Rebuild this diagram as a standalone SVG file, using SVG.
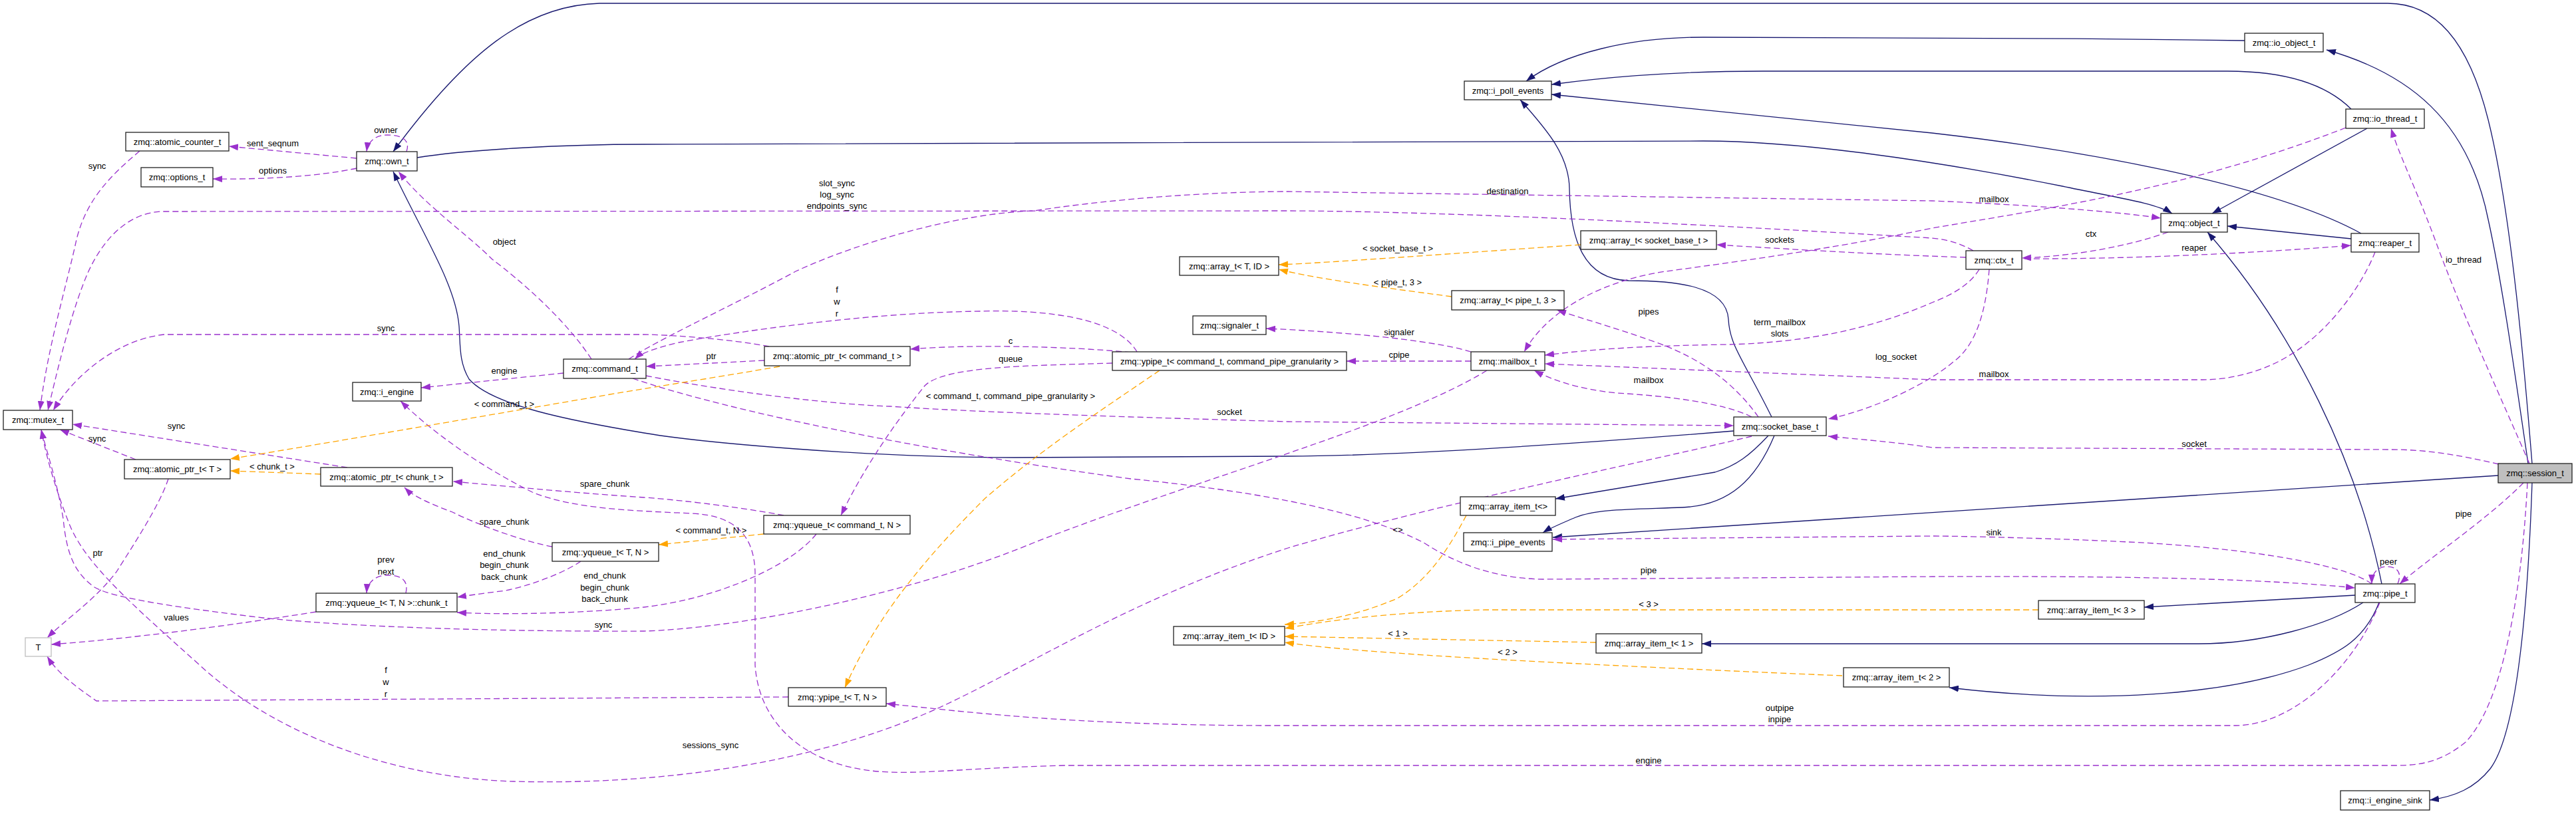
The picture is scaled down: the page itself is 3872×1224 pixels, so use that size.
<svg xmlns="http://www.w3.org/2000/svg" width="3872" height="1224" viewBox="0 0 3872 1224">
<style>
text{font-family:"Liberation Sans",Arial,sans-serif;font-size:13px;fill:#000}
.n rect{fill:#fff;stroke:#222;stroke-width:1.3}
.n text{text-anchor:middle}
.l text,text.l{text-anchor:middle}
.e{fill:none;stroke:#191970;stroke-width:1.3}
.m{fill:none;stroke:#9a32cd;stroke-width:1.3;stroke-dasharray:9,5}
.t{fill:none;stroke:#ffa500;stroke-width:1.3;stroke-dasharray:9,5}
</style>
<defs>
<marker id="ab" viewBox="0 0 14 10" refX="14" refY="5" markerWidth="14" markerHeight="10" markerUnits="userSpaceOnUse" orient="auto"><path d="M0,0L14,5L0,10z" fill="#191970" stroke="none"/></marker>
<marker id="ap" viewBox="0 0 14 10" refX="14" refY="5" markerWidth="14" markerHeight="10" markerUnits="userSpaceOnUse" orient="auto"><path d="M0,0L14,5L0,10z" fill="#9a32cd" stroke="none"/></marker>
<marker id="ao" viewBox="0 0 14 10" refX="14" refY="5" markerWidth="14" markerHeight="10" markerUnits="userSpaceOnUse" orient="auto"><path d="M0,0L14,5L0,10z" fill="#ffa500" stroke="none"/></marker>
</defs>
<rect width="3872" height="1224" fill="#fff"/>
<g id="connectors">
<!-- inheritance -->
<path class="e" marker-end="url(#ab)" d="M3806,697 C3795,560 3775,320 3740,180 C3710,60 3660,5 3589,5 L901,5 C790,8 700,80 591,228"/>
<path class="e" marker-end="url(#ab)" d="M3800,697 C3780,560 3760,420 3740,330 C3710,180 3620,110 3497,75"/>
<path class="e" marker-end="url(#ab)" d="M3755,715 L2334,808"/>
<path class="e" marker-end="url(#ab)" d="M3806,726 C3800,900 3785,1100 3743,1156 C3720,1185 3690,1198 3652,1203"/>
<path class="e" marker-end="url(#ab)" d="M3374,61 C3100,57 2800,56 2560,56 C2450,56 2350,80 2294,122"/>
<path class="e" marker-end="url(#ab)" d="M3534,164 C3510,140 3460,107 3348,107 L2650,107 C2500,107 2400,118 2332,127"/>
<path class="e" marker-end="url(#ab)" d="M3549,351 C3420,280 3150,228 2904,200 L2332,142"/>
<path class="e" marker-end="url(#ab)" d="M3558,193 L3325,321"/>
<path class="e" marker-end="url(#ab)" d="M3534,359 L3348,340"/>
<path class="e" marker-end="url(#ab)" d="M3580,878 C3545,700 3450,500 3318,349"/>
<path class="e" marker-end="url(#ab)" d="M627,237 C700,225 850,217 968,217 L2560,212 C2700,212 2900,240 3100,280 C3180,297 3240,305 3265,321"/>
<path class="e" marker-end="url(#ab)" d="M2606,648 C2400,665 2100,686 1936,686 L1524,688 C1300,688 1050,665 968,651 C860,633 740,610 705,570 C690,545 692,520 690,490 C685,430 640,360 591,258"/>
<path class="e" marker-end="url(#ab)" d="M2663,627 C2620,540 2600,520 2598,480 C2595,430 2520,422 2448,422 C2380,420 2360,360 2359,283 C2358,230 2320,190 2285,150"/>
<path class="e" marker-end="url(#ab)" d="M2658,655 C2630,685 2610,700 2578,710 L2338,750"/>
<path class="e" marker-end="url(#ab)" d="M2667,655 C2640,720 2600,760 2529,763 C2450,766 2400,765 2368,778 C2345,788 2330,794 2319,801"/>
<path class="e" marker-end="url(#ab)" d="M3540,895 L3223,913"/>
<path class="e" marker-end="url(#ab)" d="M3552,906 C3500,940 3400,968 3305,968 L2558,968"/>
<path class="e" marker-end="url(#ab)" d="M3576,906 C3555,960 3520,980 3470,1000 C3350,1045 3150,1060 2930,1034"/>
<!-- members -->
<path class="m" marker-end="url(#ap)" d="M611,228 C618,208 600,203 582,203 C565,203 553,212 551,228"/>
<path class="m" marker-end="url(#ap)" d="M536,238 L344,220"/>
<path class="m" marker-end="url(#ap)" d="M536,253 C480,265 400,270 320,269"/>
<path class="m" marker-end="url(#ap)" d="M210,227 C165,265 130,300 115,360 C100,430 72,520 60,617"/>
<path class="m" marker-end="url(#ap)" d="M2966,377 C2945,365 2925,360 2904,358 C2600,340 2200,318 1936,317 L247,318 C200,318 160,350 133,408 C110,460 90,540 72,617"/>
<path class="m" marker-end="url(#ap)" d="M2955,387 C2800,382 2650,372 2580,368"/>
<path class="m" marker-end="url(#ap)" d="M2975,405 C2960,430 2930,445 2904,455 C2800,500 2700,515 2600,518 C2450,520 2380,527 2322,534"/>
<path class="m" marker-end="url(#ap)" d="M2990,405 C2985,470 2970,520 2935,545 C2900,575 2820,615 2748,630"/>
<path class="m" marker-end="url(#ap)" d="M3259,349 C3200,370 3120,385 3039,388"/>
<path class="m" marker-end="url(#ap)" d="M3043,389 C3200,390 3400,380 3534,369"/>
<path class="m" marker-end="url(#ap)" d="M945,540 C990,510 1100,460 1196,408 C1300,360 1450,320 1554,317 C1700,295 1850,288 1936,288 L2904,302 C3050,308 3180,318 3248,328"/>
<path class="m" marker-end="url(#ap)" d="M889,540 C850,480 780,420 740,390 C700,350 640,310 599,258"/>
<path class="m" marker-end="url(#ap)" d="M847,561 L633,583"/>
<path class="m" marker-end="url(#ap)" d="M971,565 C1100,590 1250,608 1338,611 C1500,622 1800,630 1936,634 L2606,640"/>
<path class="m" marker-end="url(#ap)" d="M951,569 C1100,620 1400,680 1700,720 C1900,740 2050,770 2140,816 C2200,855 2260,870 2319,871 L2904,867 C3200,866 3400,870 3540,884"/>
<path class="m" marker-end="url(#ap)" d="M1149,542 L971,551"/>
<path class="m" marker-end="url(#ap)" d="M1156,521 C1100,510 1000,503 968,503 L247,503 C180,510 115,560 80,617"/>
<path class="m" marker-end="url(#ap)" d="M204,691 L90,646"/>
<path class="m" marker-end="url(#ap)" d="M253,720 C240,760 200,820 175,860 C140,905 100,930 71,959"/>
<path class="m" marker-end="url(#ap)" d="M522,703 L109,638"/>
<path class="m" marker-end="url(#ap)" d="M1709,529 C1680,480 1580,465 1474,468 C1300,470 1100,500 1020,515 C990,522 965,530 954,540"/>
<path class="m" marker-end="url(#ap)" d="M1700,530 C1600,520 1450,518 1368,525"/>
<path class="m" marker-end="url(#ap)" d="M1672,546 C1550,550 1420,550 1390,580 C1350,630 1300,700 1264,775"/>
<path class="m" marker-end="url(#ap)" d="M2211,543 L2024,543"/>
<path class="m" marker-end="url(#ap)" d="M2211,529 C2150,510 2000,498 1903,494"/>
<path class="m" marker-end="url(#ap)" d="M2235,557 C2100,640 1800,720 1554,816 C1350,900 1100,945 968,949 C700,950 500,940 395,929 C280,915 170,900 142,883 C110,860 100,830 95,780 C85,720 70,680 62,646"/>
<path class="m" marker-end="url(#ap)" d="M2633,656 C2450,700 2150,760 1936,824 C1700,900 1550,1000 1412,1064 C1200,1160 950,1180 772,1175 C600,1170 420,1110 300,1000 C200,910 130,850 105,790 C85,740 70,690 62,646"/>
<path class="m" marker-end="url(#ap)" d="M2643,627 C2610,580 2560,540 2490,515 C2420,490 2380,480 2340,466"/>
<path class="m" marker-end="url(#ap)" d="M2633,627 C2590,605 2500,595 2430,591 C2370,585 2330,570 2306,557"/>
<path class="m" marker-end="url(#ap)" d="M3526,192 C3300,280 3100,310 2904,343 C2750,375 2600,395 2504,408 C2420,420 2330,460 2291,529"/>
<path class="m" marker-end="url(#ap)" d="M3570,379 C3550,430 3500,500 3440,535 C3400,560 3350,571 3311,571 L2904,571 L2322,547"/>
<path class="m" marker-end="url(#ap)" d="M3802,697 C3760,600 3700,470 3660,360 C3630,280 3605,230 3594,193"/>
<path class="m" marker-end="url(#ap)" d="M3756,698 C3700,685 3650,676 3595,676 L2904,673 C2850,665 2790,660 2748,656"/>
<path class="m" marker-end="url(#ap)" d="M3793,726 C3740,780 3650,840 3607,878"/>
<path class="m" marker-end="url(#ap)" d="M3799,726 C3790,900 3760,1060 3706,1116 C3670,1145 3640,1151 3601,1151 L1600,1151 C1450,1155 1380,1165 1320,1160 C1200,1150 1140,1080 1135,1000 L1135,860 C1133,800 1100,775 1040,772 C950,768 860,765 800,740 C720,700 650,650 602,603"/>
<path class="m" marker-end="url(#ap)" d="M1178,775 C1100,760 1000,750 968,748 C850,740 750,730 681,724"/>
<path class="m" marker-end="url(#ap)" d="M1227,803 C1190,850 1080,900 968,913 C880,922 760,925 687,921"/>
<path class="m" marker-end="url(#ap)" d="M830,822 C790,815 720,790 680,770 C640,755 620,745 608,733"/>
<path class="m" marker-end="url(#ap)" d="M873,844 C850,860 800,880 760,888 C720,893 700,896 687,898"/>
<path class="m" marker-end="url(#ap)" d="M610,892 C615,870 600,865 582,865 C565,865 552,875 551,892"/>
<path class="m" marker-end="url(#ap)" d="M475,920 C350,940 200,960 77,969"/>
<path class="m" marker-end="url(#ap)" d="M1185,1048 L145,1054 C110,1030 85,1010 71,987"/>
<path class="m" marker-end="url(#ap)" d="M3577,906 C3540,1000 3450,1090 3361,1091 L1900,1091 C1600,1090 1450,1070 1332,1058"/>
<path class="m" marker-end="url(#ap)" d="M3565,878 C3520,845 3350,822 3200,815 C3100,810 2950,806 2904,806 L2334,811"/>
<path class="m" marker-end="url(#ap)" d="M3604,878 C3612,858 3600,852 3588,852 C3575,852 3565,860 3565,878"/>
<!-- template -->
<path class="t" marker-end="url(#ao)" d="M1172,551 C1050,572 968,584 900,596 C700,630 500,665 346,690"/>
<path class="t" marker-end="url(#ao)" d="M482,713 L346,708"/>
<path class="t" marker-end="url(#ao)" d="M1743,557 C1650,620 1560,680 1480,750 C1400,830 1320,920 1270,1034"/>
<path class="t" marker-end="url(#ao)" d="M1148,803 C1080,810 1030,815 990,819"/>
<path class="t" marker-end="url(#ao)" d="M2376,368 C2200,380 2000,395 1922,398"/>
<path class="t" marker-end="url(#ao)" d="M2182,446 C2100,435 1980,420 1922,405"/>
<path class="t" marker-end="url(#ao)" d="M2204,775 C2180,820 2150,870 2100,900 C2040,925 1990,935 1931,939"/>
<path class="t" marker-end="url(#ao)" d="M3064,917 L2232,917 C2100,920 2000,932 1931,945"/>
<path class="t" marker-end="url(#ao)" d="M2399,966 L1931,957"/>
<path class="t" marker-end="url(#ao)" d="M2769,1016 C2500,1005 2200,990 2100,982 C2000,975 1960,970 1931,966"/>
</g>
<g id="labels" class="l">
<text x="580" y="200">owner</text>
<text x="410" y="220">sent_seqnum</text>
<text x="410" y="261">options</text>
<text x="146" y="254">sync</text>
<text x="758" y="368">object</text>
<text x="1258" y="280">slot_sync</text>
<text x="1258" y="297">log_sync</text>
<text x="1258" y="314">endpoints_sync</text>
<text x="2266" y="292">destination</text>
<text x="2675" y="365">sockets</text>
<text x="2101" y="378">&lt; socket_base_t &gt;</text>
<text x="2997" y="304">mailbox</text>
<text x="3143" y="356">ctx</text>
<text x="3298" y="377">reaper</text>
<text x="3703" y="395">io_thread</text>
<text x="580" y="498">sync</text>
<text x="758" y="562">engine</text>
<text x="758" y="612">&lt; command_t &gt;</text>
<text x="265" y="645">sync</text>
<text x="146" y="664">sync</text>
<text x="409" y="706">&lt; chunk_t &gt;</text>
<text x="909" y="732">spare_chunk</text>
<text x="758" y="789">spare_chunk</text>
<text x="1258" y="440">f</text>
<text x="1258" y="458">w</text>
<text x="1258" y="476">r</text>
<text x="1519" y="517">c</text>
<text x="1069" y="540">ptr</text>
<text x="1519" y="544">queue</text>
<text x="1519" y="600">&lt; command_t, command_pipe_granularity &gt;</text>
<text x="1848" y="624">socket</text>
<text x="1069" y="802">&lt; command_t, N &gt;</text>
<text x="2101" y="429">&lt; pipe_t, 3 &gt;</text>
<text x="2478" y="473">pipes</text>
<text x="2103" y="504">signaler</text>
<text x="2675" y="489">term_mailbox</text>
<text x="2675" y="506">slots</text>
<text x="2103" y="538">cpipe</text>
<text x="2850" y="541">log_socket</text>
<text x="2478" y="576">mailbox</text>
<text x="2997" y="567">mailbox</text>
<text x="3298" y="672">socket</text>
<text x="3703" y="777">pipe</text>
<text x="2997" y="805">sink</text>
<text x="2101" y="801">&lt;&gt;</text>
<text x="147" y="836">ptr</text>
<text x="580" y="846">prev</text>
<text x="580" y="864">next</text>
<text x="758" y="837">end_chunk</text>
<text x="758" y="854">begin_chunk</text>
<text x="758" y="872">back_chunk</text>
<text x="909" y="870">end_chunk</text>
<text x="909" y="888">begin_chunk</text>
<text x="909" y="905">back_chunk</text>
<text x="265" y="933">values</text>
<text x="907" y="944">sync</text>
<text x="580" y="1012">f</text>
<text x="580" y="1030">w</text>
<text x="580" y="1048">r</text>
<text x="1068" y="1125">sessions_sync</text>
<text x="2478" y="862">pipe</text>
<text x="2478" y="913">&lt; 3 &gt;</text>
<text x="2101" y="957">&lt; 1 &gt;</text>
<text x="2266" y="985">&lt; 2 &gt;</text>
<text x="2675" y="1069">outpipe</text>
<text x="2675" y="1086">inpipe</text>
<text x="2478" y="1148">engine</text>
<text x="3590" y="849">peer</text>
</g>
<g id="n_atomic_counter" class="n"><rect x="189" y="199" width="155" height="28"/><text x="266.5" y="218">zmq::atomic_counter_t</text></g>
<g id="n_options" class="n"><rect x="212" y="252" width="108" height="29"/><text x="266" y="271">zmq::options_t</text></g>
<g id="n_own" class="n"><rect x="536" y="228" width="91" height="29"/><text x="581.5" y="247">zmq::own_t</text></g>
<g id="n_mutex" class="n"><rect x="5" y="617" width="104" height="29"/><text x="57" y="636">zmq::mutex_t</text></g>
<g id="n_i_engine" class="n"><rect x="530" y="575" width="103" height="28"/><text x="581.5" y="594">zmq::i_engine</text></g>
<g id="n_command" class="n"><rect x="847" y="540" width="124" height="29"/><text x="909" y="559">zmq::command_t</text></g>
<g id="n_atomic_ptr_T" class="n"><rect x="187" y="691" width="159" height="29"/><text x="266.5" y="710">zmq::atomic_ptr_t&lt; T &gt;</text></g>
<g id="n_atomic_ptr_chunk" class="n"><rect x="482" y="703" width="198" height="28"/><text x="581" y="722">zmq::atomic_ptr_t&lt; chunk_t &gt;</text></g>
<g id="n_chunk" class="n"><rect x="475" y="892" width="212" height="28"/><text x="581" y="911">zmq::yqueue_t&lt; T, N &gt;::chunk_t</text></g>
<g id="n_T" class="n"><rect x="38" y="959" width="39" height="28" style="stroke:#bfbfbf"/><text x="57.5" y="978">T</text></g>
<g id="n_yqueue_TN" class="n"><rect x="830" y="816" width="160" height="28"/><text x="910" y="835">zmq::yqueue_t&lt; T, N &gt;</text></g>
<g id="n_atomic_ptr_cmd" class="n"><rect x="1149" y="521" width="219" height="29"/><text x="1258.5" y="540">zmq::atomic_ptr_t&lt; command_t &gt;</text></g>
<g id="n_yqueue_cmd" class="n"><rect x="1148" y="775" width="220" height="28"/><text x="1258" y="794">zmq::yqueue_t&lt; command_t, N &gt;</text></g>
<g id="n_ypipe_cmd" class="n"><rect x="1672" y="529" width="352" height="28"/><text x="1848" y="548">zmq::ypipe_t&lt; command_t, command_pipe_granularity &gt;</text></g>
<g id="n_signaler" class="n"><rect x="1793" y="475" width="110" height="28"/><text x="1848" y="494">zmq::signaler_t</text></g>
<g id="n_array_TID" class="n"><rect x="1773" y="386" width="149" height="28"/><text x="1847.5" y="405">zmq::array_t&lt; T, ID &gt;</text></g>
<g id="n_ypipe_TN" class="n"><rect x="1185" y="1034" width="147" height="28"/><text x="1258.5" y="1053">zmq::ypipe_t&lt; T, N &gt;</text></g>
<g id="n_array_item_ID" class="n"><rect x="1764" y="942" width="167" height="28"/><text x="1847.5" y="961">zmq::array_item_t&lt; ID &gt;</text></g>
<g id="n_i_poll_events" class="n"><rect x="2201" y="122" width="131" height="28"/><text x="2266.5" y="141">zmq::i_poll_events</text></g>
<g id="n_array_socket" class="n"><rect x="2376" y="347" width="204" height="28"/><text x="2478" y="366">zmq::array_t&lt; socket_base_t &gt;</text></g>
<g id="n_array_pipe3" class="n"><rect x="2182" y="437" width="169" height="29"/><text x="2266.5" y="456">zmq::array_t&lt; pipe_t, 3 &gt;</text></g>
<g id="n_mailbox" class="n"><rect x="2211" y="529" width="111" height="28"/><text x="2266.5" y="548">zmq::mailbox_t</text></g>
<g id="n_socket_base" class="n"><rect x="2606" y="627" width="139" height="28"/><text x="2675.5" y="646">zmq::socket_base_t</text></g>
<g id="n_array_item_empty" class="n"><rect x="2195" y="747" width="143" height="28"/><text x="2266.5" y="766">zmq::array_item_t&lt;&gt;</text></g>
<g id="n_i_pipe_events" class="n"><rect x="2200" y="801" width="133" height="28"/><text x="2266.5" y="820">zmq::i_pipe_events</text></g>
<g id="n_array_item_1" class="n"><rect x="2399" y="953" width="159" height="29"/><text x="2478.5" y="972">zmq::array_item_t&lt; 1 &gt;</text></g>
<g id="n_array_item_2" class="n"><rect x="2771" y="1004" width="159" height="29"/><text x="2850.5" y="1023">zmq::array_item_t&lt; 2 &gt;</text></g>
<g id="n_array_item_3" class="n"><rect x="3064" y="903" width="159" height="28"/><text x="3143.5" y="922">zmq::array_item_t&lt; 3 &gt;</text></g>
<g id="n_pipe" class="n"><rect x="3540" y="878" width="90" height="28"/><text x="3585" y="897">zmq::pipe_t</text></g>
<g id="n_session" class="n"><rect x="3755" y="697" width="111" height="29" style="fill:#bfbfbf"/><text x="3810.5" y="716">zmq::session_t</text></g>
<g id="n_i_engine_sink" class="n"><rect x="3518" y="1189" width="134" height="29"/><text x="3585" y="1208">zmq::i_engine_sink</text></g>
<g id="n_io_object" class="n"><rect x="3374" y="50" width="118" height="28"/><text x="3433" y="69">zmq::io_object_t</text></g>
<g id="n_io_thread" class="n"><rect x="3526" y="164" width="118" height="29"/><text x="3585" y="183">zmq::io_thread_t</text></g>
<g id="n_object" class="n"><rect x="3248" y="321" width="100" height="28"/><text x="3298" y="340">zmq::object_t</text></g>
<g id="n_reaper" class="n"><rect x="3534" y="351" width="102" height="28"/><text x="3585" y="370">zmq::reaper_t</text></g>
<g id="n_ctx" class="n"><rect x="2955" y="377" width="84" height="28"/><text x="2997" y="396">zmq::ctx_t</text></g>
</svg>
